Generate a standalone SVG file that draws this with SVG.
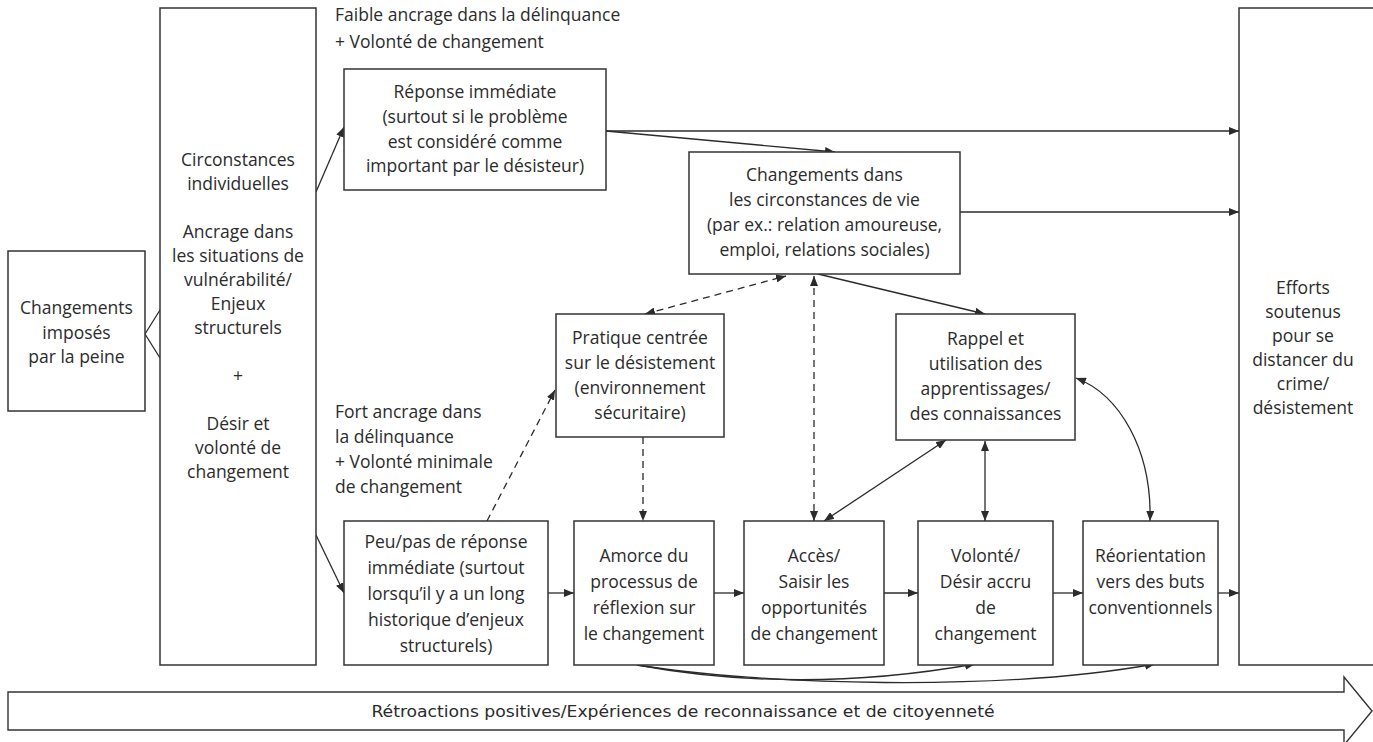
<svg xmlns="http://www.w3.org/2000/svg" width="1373" height="742" viewBox="0 0 1373 742">
<style>
  .box { fill: #ffffff; stroke: #333333; stroke-width: 1.5; }
  .t { font-family: "Open Sans", "Noto Sans", sans-serif; font-size: 17.5px; fill: #2b2b2b; text-anchor: middle; }
  .ts { font-family: "Open Sans", "Noto Sans", sans-serif; font-size: 17.5px; fill: #2b2b2b; text-anchor: start; }
  .c { fill: none; stroke: #2b2b2b; stroke-width: 1.3; }
  .d { fill: none; stroke: #2b2b2b; stroke-width: 1.3; stroke-dasharray: 7 5; }
  .big { fill: #ffffff; stroke: #333333; stroke-width: 1.4; }
  .bt { font-family: "DejaVu Sans Condensed", "DejaVu Sans", sans-serif; font-size: 16px; fill: #2b2b2b; text-anchor: middle; }
</style>
<defs>
  <marker id="ah" viewBox="0 0 10 8" refX="10" refY="4" markerWidth="10" markerHeight="8" markerUnits="userSpaceOnUse" orient="auto-start-reverse">
    <path d="M0,0 L10,4 L0,8 z" fill="#2b2b2b"/>
  </marker>
</defs>

<g id="connectors">
  <path class="c" d="M145,334 L160,310 M145,334 L160,358"/>
  <line class="c" x1="316" y1="192" x2="344" y2="127" marker-end="url(#ah)"/>
  <line class="c" x1="316" y1="535" x2="344" y2="593" marker-end="url(#ah)"/>
  <line class="c" x1="606" y1="131" x2="1239" y2="131" marker-end="url(#ah)"/>
  <line class="c" x1="606" y1="131" x2="835" y2="152" marker-end="url(#ah)"/>
  <line class="c" x1="960" y1="212" x2="1239" y2="212" marker-end="url(#ah)"/>
  <line class="d" x1="645" y1="314" x2="786" y2="276" marker-start="url(#ah)" marker-end="url(#ah)"/>
  <line class="d" x1="814" y1="276" x2="814" y2="521" marker-start="url(#ah)" marker-end="url(#ah)"/>
  <line class="c" x1="818" y1="274" x2="985" y2="314" marker-end="url(#ah)"/>
  <line class="d" x1="487" y1="521" x2="555" y2="390" marker-end="url(#ah)"/>
  <line class="d" x1="643" y1="437" x2="643" y2="521" marker-end="url(#ah)"/>
  <line class="c" x1="548" y1="593" x2="574" y2="593" marker-end="url(#ah)"/>
  <line class="c" x1="714" y1="593" x2="744" y2="593" marker-end="url(#ah)"/>
  <line class="c" x1="884" y1="593" x2="918" y2="593" marker-end="url(#ah)"/>
  <line class="c" x1="1053" y1="593" x2="1083" y2="593" marker-end="url(#ah)"/>
  <line class="c" x1="1218" y1="593" x2="1239" y2="593" marker-end="url(#ah)"/>
  <line class="c" x1="824" y1="521" x2="946" y2="440" marker-start="url(#ah)" marker-end="url(#ah)"/>
  <line class="c" x1="985" y1="441" x2="985" y2="521" marker-start="url(#ah)" marker-end="url(#ah)"/>
  <path class="c" d="M1076,378 C1120,395 1152,450 1150,521" marker-start="url(#ah)" marker-end="url(#ah)"/>
  <path class="c" d="M637,665 Q800,695 975,664" marker-end="url(#ah)"/>
  <path class="c" d="M637,665 C760,685 1000,692 1155,664" marker-end="url(#ah)"/>
</g>

<g id="node-imposes">
  <rect class="box" x="8" y="251" width="137" height="160"/>
  <text class="t" x="76.5" y="314">Changements</text>
  <text class="t" x="76.5" y="339">imposés</text>
  <text class="t" x="76.5" y="363">par la peine</text>
</g>

<g id="node-circonstances">
  <rect class="box" x="160" y="8" width="156" height="657"/>
  <text class="t" x="238" y="166">Circonstances</text>
  <text class="t" x="238" y="190">individuelles</text>
  <text class="t" x="238" y="238">Ancrage dans</text>
  <text class="t" x="238" y="262">les situations de</text>
  <text class="t" x="238" y="286">vulnérabilité/</text>
  <text class="t" x="238" y="310">Enjeux</text>
  <text class="t" x="238" y="334">structurels</text>
  <text class="t" x="238" y="382">+</text>
  <text class="t" x="238" y="430">Désir et</text>
  <text class="t" x="238" y="454">volonté de</text>
  <text class="t" x="238" y="478">changement</text>
</g>

<g id="label-faible">
  <text class="ts" x="335" y="21">Faible ancrage dans la délinquance</text>
  <text class="ts" x="335" y="48">+ Volonté de changement</text>
</g>

<g id="label-fort">
  <text class="ts" x="335" y="418">Fort ancrage dans</text>
  <text class="ts" x="335" y="443">la délinquance</text>
  <text class="ts" x="335" y="468">+ Volonté minimale</text>
  <text class="ts" x="335" y="493">de changement</text>
</g>

<g id="node-reponse">
  <rect class="box" x="344" y="69" width="262" height="121"/>
  <text class="t" x="475" y="98">Réponse immédiate</text>
  <text class="t" x="475" y="123">(surtout si le problème</text>
  <text class="t" x="475" y="148">est considéré comme</text>
  <text class="t" x="475" y="172">important par le désisteur)</text>
</g>

<g id="node-circ-vie">
  <rect class="box" x="689" y="152" width="271" height="122"/>
  <text class="t" x="824.5" y="181">Changements dans</text>
  <text class="t" x="824.5" y="206">les circonstances de vie</text>
  <text class="t" x="824.5" y="231">(par ex.: relation amoureuse,</text>
  <text class="t" x="824.5" y="256">emploi, relations sociales)</text>
</g>

<g id="node-pratique">
  <rect class="box" x="556" y="314" width="168" height="123"/>
  <text class="t" x="640" y="344">Pratique centrée</text>
  <text class="t" x="640" y="369">sur le désistement</text>
  <text class="t" x="640" y="394">(environnement</text>
  <text class="t" x="640" y="419">sécuritaire)</text>
</g>

<g id="node-rappel">
  <rect class="box" x="896" y="314" width="179" height="126"/>
  <text class="t" x="985.5" y="345">Rappel et</text>
  <text class="t" x="985.5" y="370">utilisation des</text>
  <text class="t" x="985.5" y="395">apprentissages/</text>
  <text class="t" x="985.5" y="420">des connaissances</text>
</g>

<g id="node-peu">
  <rect class="box" x="344" y="521" width="204" height="144"/>
  <text class="t" x="446" y="548">Peu/pas de réponse</text>
  <text class="t" x="446" y="574">immédiate (surtout</text>
  <text class="t" x="446" y="600">lorsqu’il y a un long</text>
  <text class="t" x="446" y="626">historique d’enjeux</text>
  <text class="t" x="446" y="652">structurels)</text>
</g>

<g id="node-amorce">
  <rect class="box" x="574" y="521" width="140" height="144"/>
  <text class="t" x="644" y="562">Amorce du</text>
  <text class="t" x="644" y="588">processus de</text>
  <text class="t" x="644" y="614">réflexion sur</text>
  <text class="t" x="644" y="640">le changement</text>
</g>

<g id="node-acces">
  <rect class="box" x="744" y="521" width="140" height="144"/>
  <text class="t" x="814" y="562">Accès/</text>
  <text class="t" x="814" y="588">Saisir les</text>
  <text class="t" x="814" y="614">opportunités</text>
  <text class="t" x="814" y="640">de changement</text>
</g>

<g id="node-volonte">
  <rect class="box" x="918" y="521" width="135" height="144"/>
  <text class="t" x="985.5" y="562">Volonté/</text>
  <text class="t" x="985.5" y="588">Désir accru</text>
  <text class="t" x="985.5" y="614">de</text>
  <text class="t" x="985.5" y="640">changement</text>
</g>

<g id="node-reorientation">
  <rect class="box" x="1083" y="521" width="135" height="144"/>
  <text class="t" x="1150.5" y="562">Réorientation</text>
  <text class="t" x="1150.5" y="588">vers des buts</text>
  <text class="t" x="1150.5" y="614">conventionnels</text>
</g>

<g id="node-efforts">
  <rect class="box" x="1239" y="8" width="160" height="657"/>
  <text class="t" x="1303" y="294">Efforts</text>
  <text class="t" x="1303" y="318">soutenus</text>
  <text class="t" x="1303" y="342">pour se</text>
  <text class="t" x="1303" y="366">distancer du</text>
  <text class="t" x="1303" y="390">crime/</text>
  <text class="t" x="1303" y="414">désistement</text>
</g>

<g id="node-retroactions">
  <polygon class="big" points="8,692 1344,692 1344,677 1372,711 1344,745 1344,730 8,730"/>
  <text class="bt" x="683" y="717" textLength="623" lengthAdjust="spacingAndGlyphs">Rétroactions positives/Expériences de reconnaissance et de citoyenneté</text>
</g>
</svg>
